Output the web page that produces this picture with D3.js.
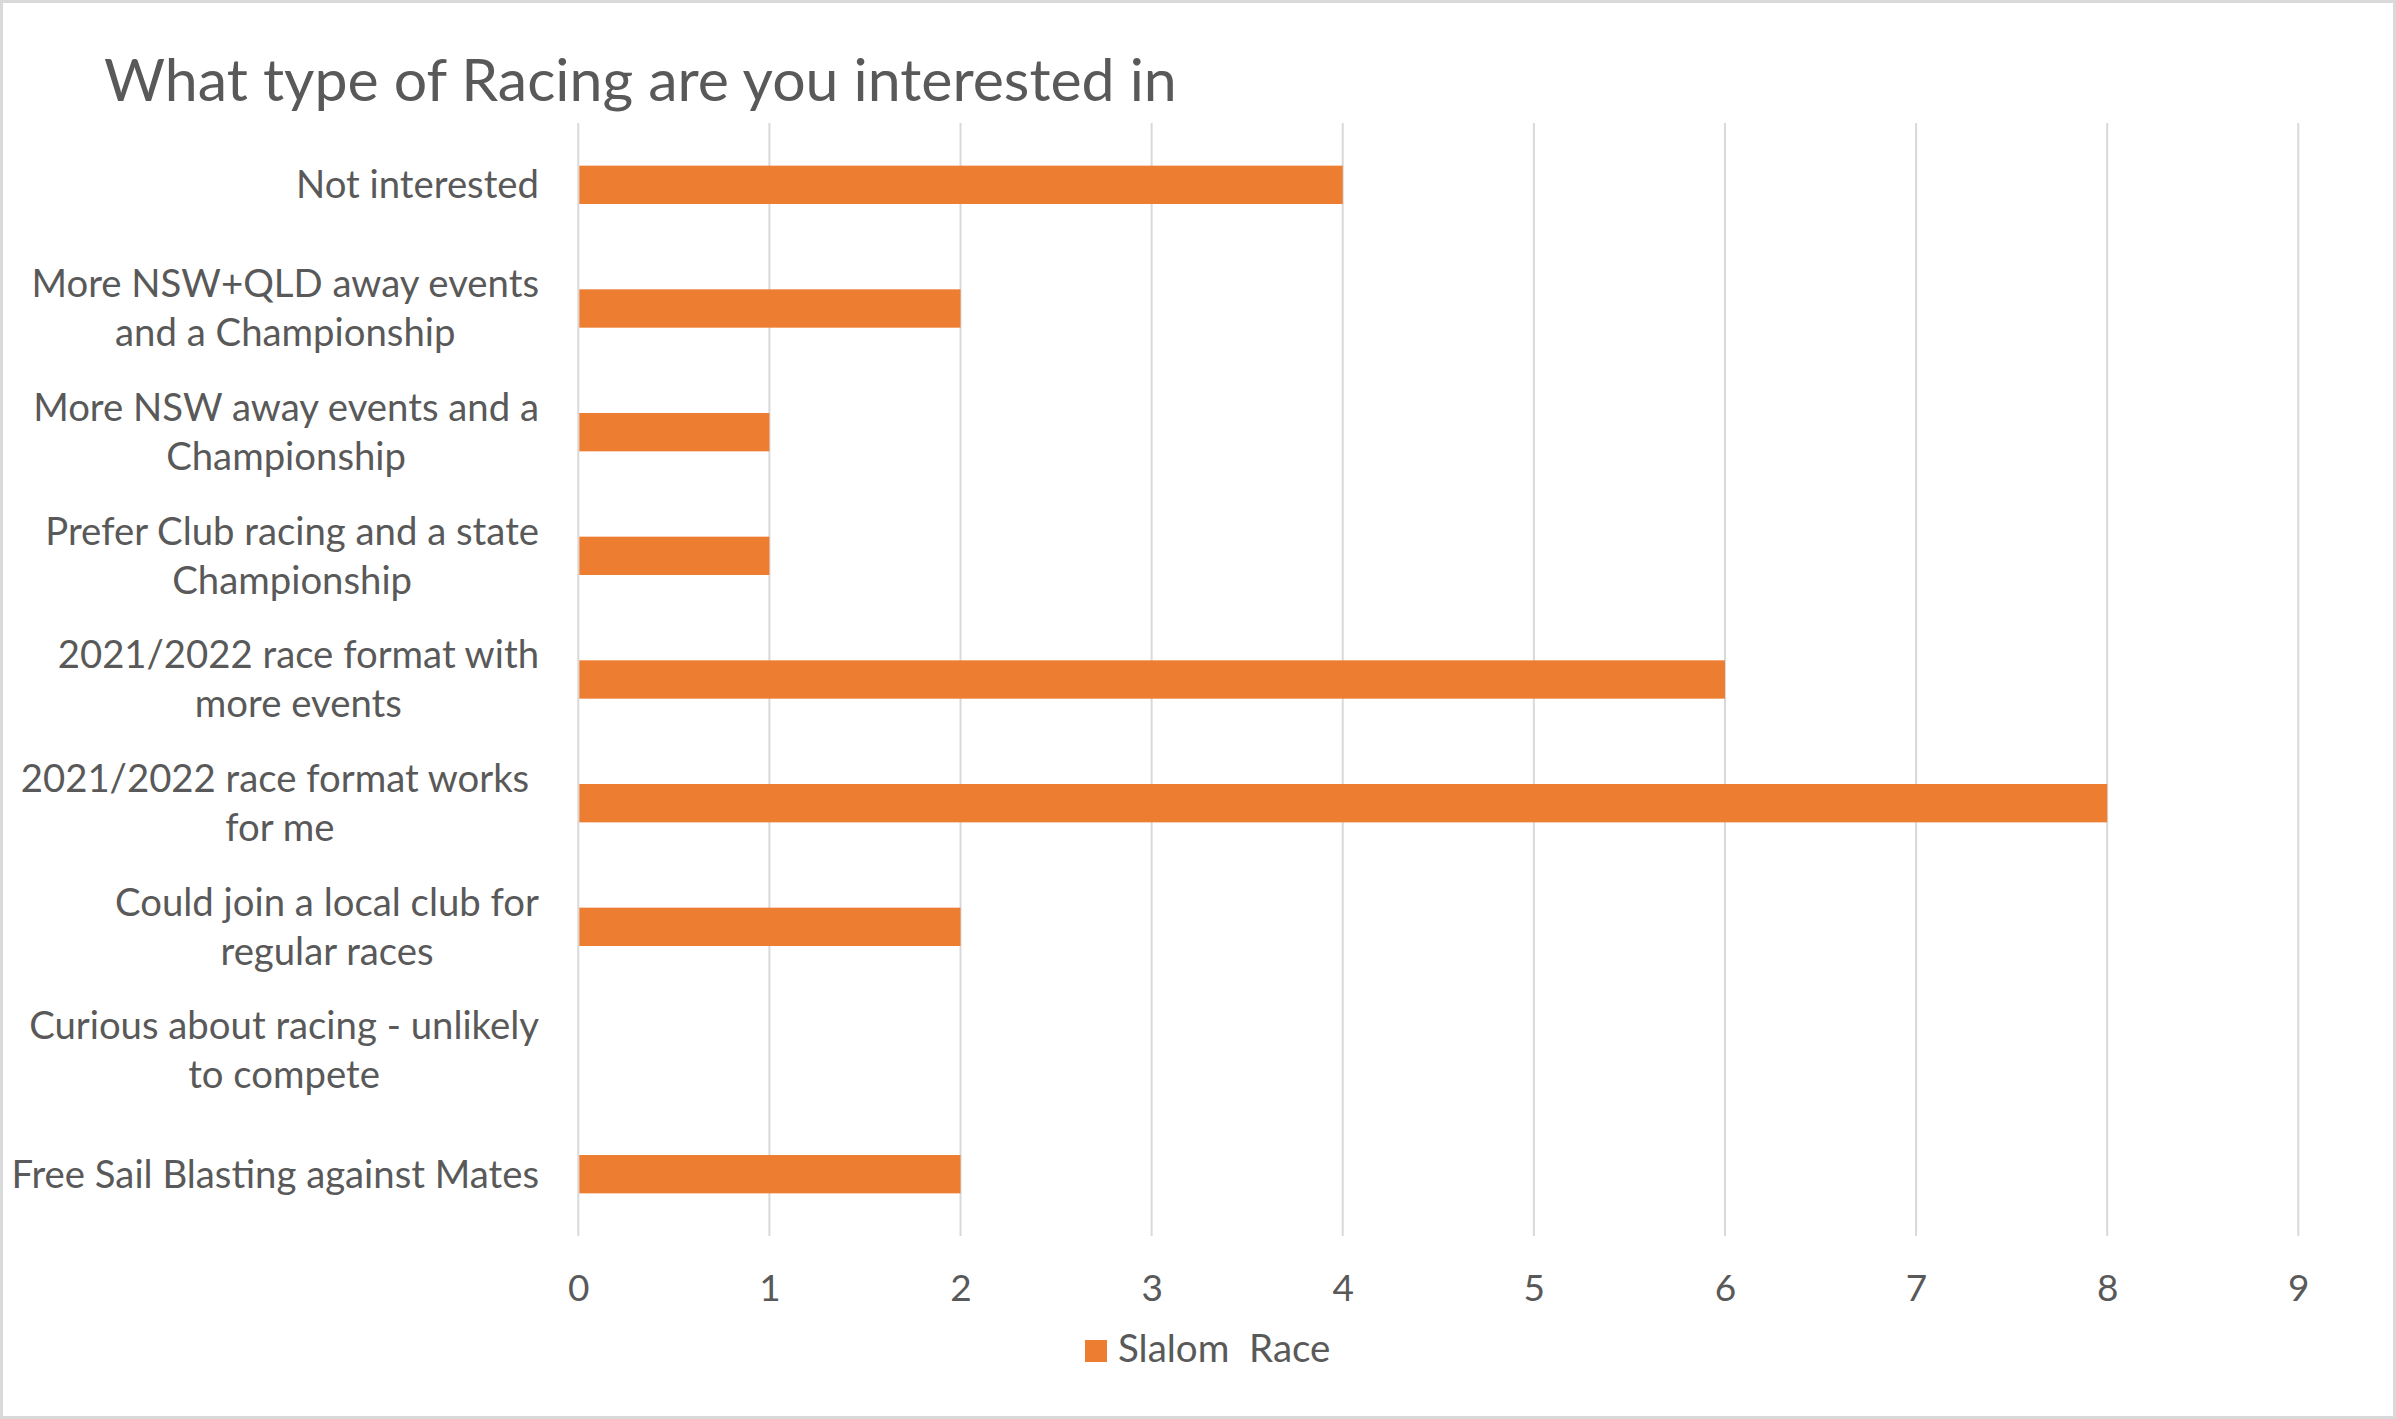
<!DOCTYPE html>
<html>
<head>
<meta charset="utf-8">
<script src="https://cdn.jsdelivr.net/npm/d3@7"></script>
<style>
  html, body { margin: 0; padding: 0; background: #fff; }
  svg { display: block; }
  text { font-family: Lato, "Open Sans", sans-serif; fill: #595959; }
</style>
</head>
<body>
<svg id="chart" width="2396" height="1419"></svg>
<script>
const title = "What type of Racing are you interested in";
const categories = [
  "Not interested",
  "More NSW+QLD away events\nand a Championship",
  "More NSW away events and a\nChampionship",
  "Prefer Club racing and a state\nChampionship",
  "2021/2022 race format with\nmore events",
  "2021/2022 race format works \nfor me",
  "Could join a local club for\nregular races",
  "Curious about racing - unlikely\nto compete",
  "Free Sail Blasting against Mates"
];
const values = [4, 2, 1, 1, 6, 8, 2, 0, 2];
const seriesName = "Slalom  Race";
const xTicks = [0, 1, 2, 3, 4, 5, 6, 7, 8, 9];

const W = 2396, H = 1419;
const plot = { left: 578.3, right: 2298.3, top: 123, bottom: 1236 };
const barColor = "#ED7D31";
const gridColor = "#d9d9d9";
const labelSize = 38.3;

const svg = d3.select("#chart");

svg.append("rect").attr("x", 1.5).attr("y", 1.5).attr("width", W - 3).attr("height", H - 3)
  .attr("fill", "#fff").attr("stroke", gridColor).attr("stroke-width", 3);

const x = d3.scaleLinear().domain([0, 9]).range([plot.left, plot.right]);
const y = d3.scaleBand().domain(categories).range([plot.top, plot.bottom])
  .paddingInner(0.69).paddingOuter(0.345);

// gridlines
svg.append("g").selectAll("line").data(xTicks).join("line")
  .attr("x1", d => x(d)).attr("x2", d => x(d))
  .attr("y1", plot.top).attr("y2", plot.bottom)
  .attr("stroke", gridColor).attr("stroke-width", 2);

// bars
svg.append("g").selectAll("rect").data(categories).join("rect")
  .attr("x", x(0) + 1)
  .attr("y", d => y(d))
  .attr("width", (d, i) => Math.max(0, x(values[i]) - x(0) - 1))
  .attr("height", y.bandwidth())
  .attr("fill", barColor);

// x tick labels
const xAxis = d3.axisBottom(x).tickValues(xTicks).tickSize(0).tickPadding(0);
const xg = svg.append("g").attr("transform", `translate(0, ${plot.bottom})`).call(xAxis);
xg.select(".domain").remove();
xg.selectAll("text").attr("font-size", 37).attr("font-family", "Lato, 'Open Sans', sans-serif")
  .attr("fill", "#595959").attr("y", 65).attr("dy", 0);

// category labels
const labelRight = 539;
const lineH = 49;
const lg = svg.append("g");
categories.forEach((c, i) => {
  const lines = c.split("\n");
  const cy = y(c) + y.bandwidth() / 2;
  const t = lg.append("text").attr("font-size", labelSize).attr("text-anchor", "middle")
    .style("white-space", "pre");
  const tspans = lines.map((ln, j) => t.append("tspan").text(ln).style("white-space", "pre")
    .attr("y", cy + (j - (lines.length - 1) / 2) * lineH).attr("dy", "0.35em"));
  let maxW = 0;
  tspans.forEach(ts => { maxW = Math.max(maxW, ts.node().getComputedTextLength()); });
  tspans.forEach(ts => ts.attr("x", labelRight - maxW / 2));
});

// title
svg.append("text").attr("x", 104).attr("y", 101).attr("font-size", 59).text(title);

// legend
const leg = svg.append("g");
leg.append("rect").attr("x", 1085).attr("y", 1340).attr("width", 22).attr("height", 22).attr("fill", barColor);
leg.append("text").attr("x", 1118).attr("y", 1362).attr("font-size", 38.5)
  .style("white-space", "pre").text(seriesName);
</script>
</body>
</html>
